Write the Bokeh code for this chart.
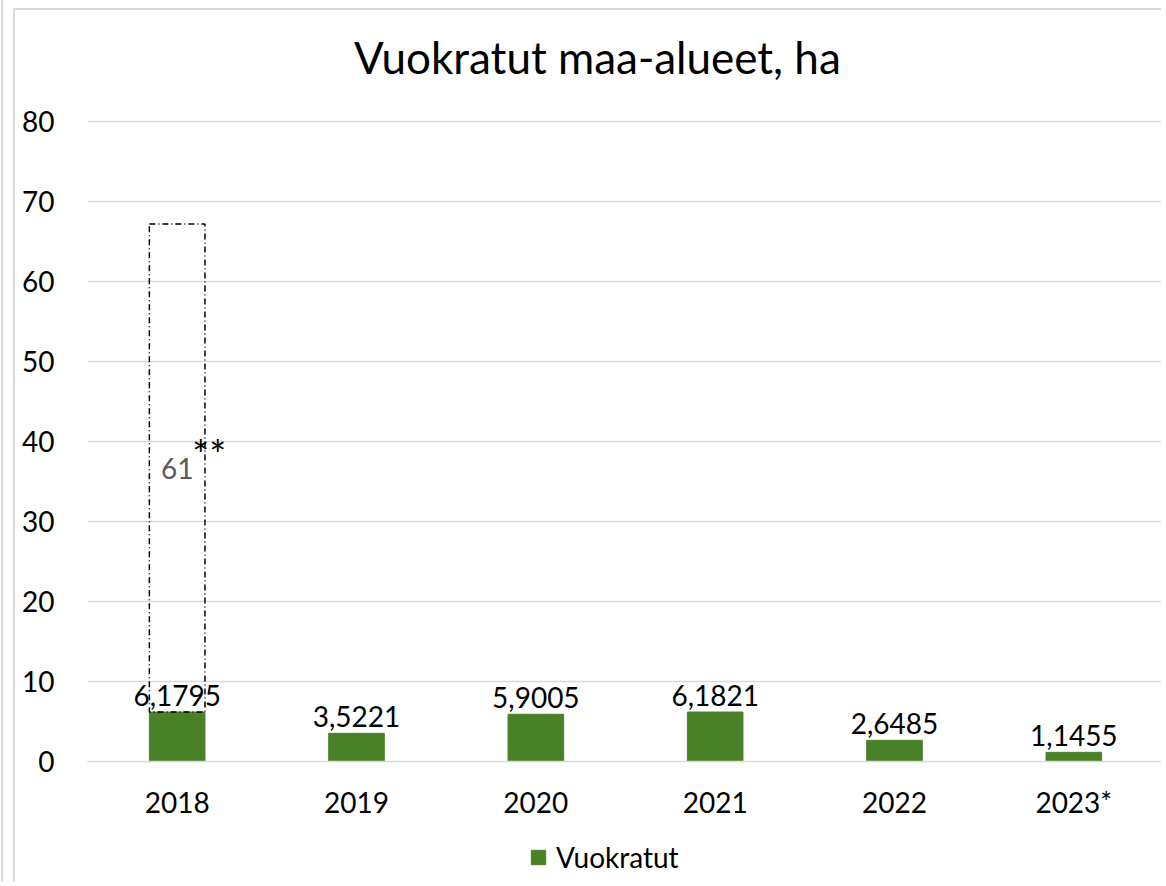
from bokeh.plotting import figure
from bokeh.layouts import column
from bokeh.models import Range1d, FactorRange, Legend, LegendItem, ColumnDataSource, SingleIntervalTicker, Div
from bokeh.core.properties import value
from bokeh.embed import file_html
from bokeh.resources import INLINE

years = ["2018", "2019", "2020", "2021", "2022", "2023*"]
vuokratut = [6.1795, 3.5221, 5.9005, 6.1821, 2.6485, 1.1455]
labels = ["6,1795", "3,5221", "5,9005", "6,1821", "2,6485", "1,1455"]
extra_year = ["2018"]
extra_value = [61]
extra_label = ["61"]
extra_note = ["**"]
title_text = "Vuokratut maa-alueet, ha"
series_name = "Vuokratut"

FONT = "Lato"
GREEN = "#4A8128"
GRID = "#D9D9D9"
BORDER = "2px solid #D9D9D9"

# title strip
title = Div(text=title_text, width=1148, height=93, margin=(8, 0, 0, 10),
            styles={"border-left": BORDER, "border-top": BORDER, "box-sizing": "border-box",
                    "font-family": "Lato", "font-size": "44px", "line-height": "1", "color": "black",
                    "padding-left": "339px", "padding-top": "25px", "white-space": "nowrap",
                    "background": "white"})

p = figure(width=1148, height=727, x_range=FactorRange(*years, range_padding=0),
           y_range=Range1d(0, 80.25), output_backend="svg", toolbar_location=None,
           min_border_left=72, min_border_right=0, min_border_top=18, min_border_bottom=67)
p.margin = (0, 0, 0, 10)
p.styles = {"border-left": BORDER, "box-sizing": "border-box"}
p.outline_line_color = None
p.background_fill_color = "white"
p.border_fill_color = "white"

src = ColumnDataSource(dict(x=years, top=vuokratut, lab=labels))
bars = p.vbar(x="x", top="top", width=0.31, source=src, fill_color=GREEN, line_color=GREEN)
p.text(x="x", y="top", text="lab", source=src, text_align="center", text_baseline="alphabetic",
       y_offset=-17, text_font=value(FONT), text_font_size="28px", text_color="black")

base = [vuokratut[years.index(y)] for y in extra_year]
top2 = [b + v for b, v in zip(base, extra_value)]
mid2 = [(b + t) / 2 for b, t in zip(base, top2)]
esrc = ColumnDataSource(dict(x=extra_year, bottom=base, top=top2, mid=mid2, lab=extra_label, note=extra_note))
p.vbar(x="x", bottom="bottom", top="top", width=0.31, source=esrc, fill_color=None,
       line_color="black", line_width=1.5, line_dash="6 3 1 3")
p.text(x="x", y="mid", text="lab", source=esrc, text_align="center", text_baseline="middle",
       text_font=value(FONT), text_font_size="28px", text_color="#595959")
p.text(x="x", y="mid", text="note", source=esrc, text_align="left", text_baseline="alphabetic",
       x_offset=15, y_offset=-13, text_font=value(FONT), text_font_size="40px", text_color="black")

p.xgrid.grid_line_color = None
p.ygrid.grid_line_color = GRID
p.ygrid.grid_line_width = 1.5
p.yaxis.ticker = SingleIntervalTicker(interval=10)
p.yaxis.axis_line_color = None
p.yaxis.major_tick_line_color = None
p.yaxis.minor_tick_line_color = None
p.yaxis.major_tick_out = 0
p.yaxis.major_tick_in = 0
p.yaxis.major_label_standoff = 29
p.yaxis.major_label_text_font = FONT
p.yaxis.major_label_text_font_size = "28px"
p.yaxis.major_label_text_color = "black"

p.xaxis.axis_line_color = GRID
p.xaxis.axis_line_width = 1.5
p.xaxis.major_tick_line_color = None
p.xaxis.major_tick_out = 0
p.xaxis.major_tick_in = 0
p.xaxis.major_label_standoff = 23
p.xaxis.major_label_text_font = FONT
p.xaxis.major_label_text_font_size = "28px"
p.xaxis.major_label_text_color = "black"

# legend strip under the chart (proxy bars of the same series, kept out of view)
leg = figure(width=1148, height=54, output_backend="svg", toolbar_location=None,
             x_range=FactorRange(*years, range_padding=0), y_range=Range1d(1000, 1001),
             x_axis_type=None, y_axis_type=None, min_border=0)
leg.margin = (0, 0, 0, 10)
leg.styles = {"border-left": BORDER, "box-sizing": "border-box"}
leg.outline_line_color = None
leg.xgrid.grid_line_color = None
leg.ygrid.grid_line_color = None
proxy = leg.vbar(x="x", top="top", width=0.31, source=src, fill_color=GREEN, line_color=GREEN)
legend = Legend(items=[LegendItem(label=series_name, renderers=[proxy])], orientation="horizontal",
                location=(442, 8), label_text_font=FONT, label_text_font_size="28px",
                label_text_color="black", glyph_width=18, glyph_height=18, label_standoff=9,
                padding=0, margin=0, border_line_color=None, background_fill_alpha=0)
leg.add_layout(legend, "center")

layout = column(title, p, leg, spacing=0)
layout.margin = (0, 0, 0, 1)
layout.styles = {"border-left": BORDER}

open("out.html", "w").write(file_html(layout, INLINE))
